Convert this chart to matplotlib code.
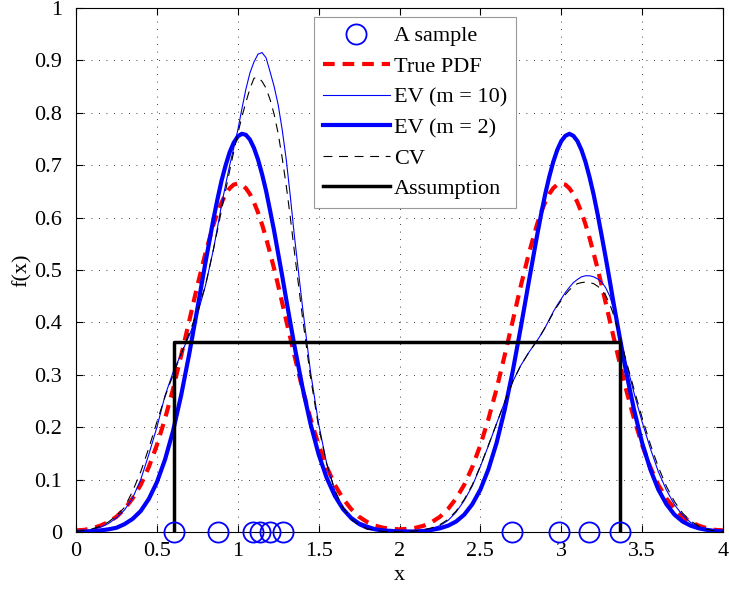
import numpy as np
import matplotlib.pyplot as plt

plt.rcParams['font.family'] = ['Liberation Serif', 'DejaVu Serif']

# evaluation grid: step 0.05, finer (0.025) around the peaks
x = np.r_[np.linspace(0, 0.85, 18), np.linspace(0.875, 1.325, 19),
          np.linspace(1.35, 2.85, 31), np.linspace(2.875, 3.325, 19),
          np.linspace(3.35, 4.0, 14)]

sample = [0.603, 0.878, 1.091, 1.138, 1.200, 1.278, 2.693, 2.987, 3.174, 3.366]

true_pdf = [0.003, 0.004, 0.007, 0.012, 0.019, 0.029, 0.044, 0.064, 0.090, 0.124,
            0.166, 0.216, 0.273, 0.337, 0.403, 0.470, 0.532, 0.587,
            0.610, 0.629, 0.645, 0.656, 0.663, 0.665, 0.663, 0.656, 0.645, 0.629,
            0.610, 0.587, 0.561, 0.532, 0.502, 0.470, 0.437, 0.403, 0.370,
            0.337, 0.273, 0.216, 0.166, 0.124, 0.090, 0.064, 0.044, 0.029, 0.019,
            0.012, 0.008, 0.006, 0.005, 0.006, 0.008, 0.012, 0.019, 0.029, 0.044,
            0.064, 0.090, 0.124, 0.166, 0.216, 0.273, 0.337, 0.403, 0.470, 0.532, 0.587,
            0.610, 0.629, 0.645, 0.656, 0.663, 0.665, 0.663, 0.656, 0.645, 0.629,
            0.610, 0.587, 0.561, 0.532, 0.502, 0.470, 0.437, 0.403, 0.370,
            0.337, 0.273, 0.216, 0.166, 0.124, 0.090, 0.064, 0.044, 0.029, 0.019,
            0.012, 0.007, 0.004, 0.003]

ev10 = [0.001, 0.002, 0.005, 0.009, 0.016, 0.027, 0.042, 0.065, 0.100, 0.148,
        0.200, 0.260, 0.305, 0.340, 0.375, 0.415, 0.470, 0.540,
        0.582, 0.625, 0.663, 0.700, 0.733, 0.767, 0.807, 0.845, 0.876, 0.897,
        0.912, 0.915, 0.905, 0.878, 0.850, 0.815, 0.767, 0.710, 0.640,
        0.565, 0.430, 0.305, 0.206, 0.130, 0.078, 0.044, 0.023, 0.012, 0.005,
        0.003, 0.001, 0.001, 0.000, 0.001, 0.002, 0.004, 0.007, 0.012, 0.022,
        0.038, 0.060, 0.088, 0.125, 0.165, 0.207, 0.248, 0.287, 0.318, 0.343, 0.365,
        0.377, 0.390, 0.405, 0.420, 0.433, 0.445, 0.457, 0.467, 0.476, 0.482,
        0.487, 0.489, 0.489, 0.487, 0.483, 0.477, 0.466, 0.450, 0.425,
        0.390, 0.325, 0.265, 0.210, 0.160, 0.115, 0.080, 0.052, 0.032, 0.018,
        0.009, 0.004, 0.002, 0.001]

ev2 = [0.000, 0.001, 0.001, 0.003, 0.005, 0.008, 0.015, 0.025, 0.040, 0.063,
       0.095, 0.138, 0.193, 0.261, 0.340, 0.426, 0.514, 0.598,
       0.636, 0.671, 0.700, 0.725, 0.743, 0.755, 0.760, 0.758, 0.749, 0.733,
       0.711, 0.683, 0.651, 0.613, 0.574, 0.531, 0.488, 0.443, 0.399,
       0.356, 0.276, 0.206, 0.148, 0.103, 0.069, 0.044, 0.027, 0.016, 0.010,
       0.005, 0.003, 0.002, 0.001, 0.001, 0.001, 0.002, 0.004, 0.007, 0.012,
       0.020, 0.033, 0.053, 0.081, 0.120, 0.170, 0.233, 0.307, 0.391, 0.479, 0.565,
       0.606, 0.644, 0.677, 0.706, 0.729, 0.746, 0.756, 0.760, 0.756, 0.746,
       0.729, 0.706, 0.677, 0.644, 0.606, 0.565, 0.523, 0.479, 0.434,
       0.391, 0.307, 0.233, 0.170, 0.120, 0.081, 0.053, 0.033, 0.020, 0.012,
       0.007, 0.004, 0.002, 0.001]

cv = [0.001, 0.003, 0.006, 0.011, 0.019, 0.031, 0.047, 0.078, 0.115, 0.160,
      0.210, 0.258, 0.300, 0.340, 0.380, 0.420, 0.470, 0.540,
      0.577, 0.615, 0.652, 0.690, 0.726, 0.760, 0.792, 0.820, 0.846, 0.866,
      0.868, 0.860, 0.847, 0.825, 0.797, 0.760, 0.713, 0.660, 0.600,
      0.535, 0.410, 0.295, 0.200, 0.130, 0.080, 0.046, 0.025, 0.013, 0.006,
      0.003, 0.001, 0.001, 0.000, 0.001, 0.002, 0.004, 0.008, 0.014, 0.024,
      0.040, 0.062, 0.090, 0.126, 0.166, 0.207, 0.248, 0.287, 0.318, 0.343, 0.365,
      0.377, 0.390, 0.404, 0.418, 0.431, 0.442, 0.453, 0.462, 0.469, 0.474,
      0.476, 0.477, 0.476, 0.474, 0.469, 0.462, 0.451, 0.435, 0.413,
      0.385, 0.328, 0.272, 0.218, 0.168, 0.124, 0.087, 0.058, 0.036, 0.021,
      0.011, 0.005, 0.002, 0.001]

# uniform assumption over [min, max] of the sample
assume_x = [0.603, 0.603, 3.366, 3.366]
assume_y = [0.0, 0.362, 0.362, 0.0]

fig = plt.figure(figsize=(7.29, 5.92), dpi=100)
ax = fig.add_axes([0.1043, 0.1014, 0.8875, 0.885])

ax.plot(sample, np.zeros(len(sample)), 'o', mfc='none', mec='b', ms=14.5, mew=1.3,
        clip_on=False, zorder=5, label='A sample')
ax.plot(x, true_pdf, '--', color='r', lw=3, dashes=(2.8, 1.9), label='True PDF')
ax.plot(x, ev10, '-', color='b', lw=0.8, label='EV (m = 10)')
ax.plot(x, ev2, '-', color='b', lw=3, label='EV (m = 2)')
ax.plot(x, cv, '--', color='k', lw=0.8, dashes=(8, 6), label='CV')
ax.plot(assume_x, assume_y, '-', color='k', lw=2.5, label='Assumption')

ax.set_xlim(0, 4)
ax.set_ylim(0, 1)
ax.set_xticks(np.arange(0, 4.01, 0.5))
ax.set_xticklabels(['0', '0.5', '1', '1.5', '2', '2.5', '3', '3.5', '4'])
ax.set_yticks(np.arange(0, 1.01, 0.1))
ax.set_yticklabels(['0', '0.1', '0.2', '0.3', '0.4', '0.5', '0.6', '0.7', '0.8', '0.9', '1'])
ax.tick_params(direction='in', top=True, right=True, length=5, labelsize=16)
ax.tick_params(axis='x', pad=7)
ax.tick_params(axis='y', pad=10)
ax.grid(True, color='k', linestyle=(0, (1, 8)), linewidth=0.6)
ax.set_xlabel('x', fontsize=16, labelpad=4)
ax.set_ylabel('f(x)', fontsize=16, labelpad=2)

leg = ax.legend(loc='upper left', bbox_to_anchor=(0.368, 0.983), borderaxespad=0,
                fontsize=16, handlelength=3.0, handletextpad=0.2, labelspacing=0.45,
                fancybox=False, framealpha=1, edgecolor='0.6', borderpad=0.4)
leg.get_frame().set_linewidth(0.8)

fig.savefig('out.png', dpi=100)
